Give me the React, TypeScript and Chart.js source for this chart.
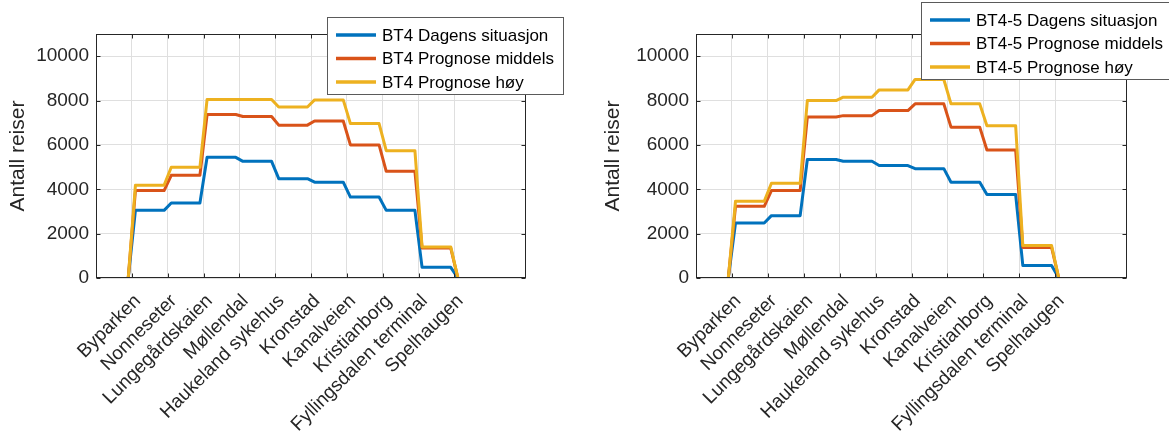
import React, { useEffect, useRef } from "react";
import { Chart, registerables } from "chart.js";

Chart.register(...registerables);

// ---------- data ----------
const stops = [
  "Byparken",
  "Nonneseter",
  "Lungegårdskaien",
  "Møllendal",
  "Haukeland sykehus",
  "Kronstad",
  "Kanalveien",
  "Kristianborg",
  "Fyllingsdalen terminal",
  "Spelhaugen",
];

const bt4Dagens = [3050, 3380, 5440, 5260, 4480, 4320, 3650, 3050, 480];
const bt4Middels = [3940, 4630, 7370, 7280, 6890, 7080, 6000, 4810, 1350];
const bt4Hoy = [4180, 4990, 8050, 8050, 7710, 8030, 6960, 5740, 1400];

const bt45Dagens = [2480, 2810, 5340, 5260, 5070, 4930, 4320, 3760, 560];
const bt45Middels = [3230, 3940, 7260, 7320, 7550, 7850, 6800, 5770, 1380];
const bt45Hoy = [3460, 4270, 8000, 8150, 8480, 8950, 7850, 6860, 1460];

const yTicks = [0, 2000, 4000, 6000, 8000, 10000];
const yTitle = "Antall reiser";

const leftLabels = ["BT4 Dagens situasjon", "BT4 Prognose middels", "BT4 Prognose høy"];
const rightLabels = ["BT4-5 Dagens situasjon", "BT4-5 Prognose middels", "BT4-5 Prognose høy"];

// ---------- style ----------
const COLORS = ["#0072BD", "#D95319", "#EDB120"];
const FONT = 'Arial, "Liberation Sans", Helvetica, sans-serif';
const TEXT = "#262626";
const GRID = "#dfdfdf";
const RAMP = 0.1;

function stepPoints(vals: number[]) {
  const pts: { x: number; y: number }[] = [{ x: 1 - RAMP, y: 0 }];
  vals.forEach((v, i) => {
    pts.push({ x: i + 1 + RAMP, y: v });
    pts.push({ x: i + 2 - RAMP, y: v });
  });
  pts.push({ x: vals.length + 1 + RAMP, y: 0 });
  return pts;
}

const boxPlugin = {
  id: "matlabBox",
  afterDatasetsDraw(chart: any) {
    const { ctx, chartArea: a, scales } = chart;
    ctx.save();
    ctx.strokeStyle = "#262626";
    ctx.lineWidth = 1;
    const L = Math.round(a.left) + 0.5;
    const R = Math.round(a.right) - 0.5;
    const T = Math.round(a.top) + 0.5;
    const B = Math.round(a.bottom) - 0.5;
    ctx.strokeRect(L, T, R - L, B - T);
    const tl = 4;
    ctx.beginPath();
    scales.x.ticks.forEach((t: any) => {
      const px = Math.round(scales.x.getPixelForValue(t.value)) + 0.5;
      ctx.moveTo(px, B);
      ctx.lineTo(px, B - tl);
      ctx.moveTo(px, T);
      ctx.lineTo(px, T + tl);
    });
    scales.y.ticks.forEach((t: any) => {
      const py = Math.round(scales.y.getPixelForValue(t.value)) + 0.5;
      ctx.moveTo(L, py);
      ctx.lineTo(L + tl, py);
      ctx.moveTo(R, py);
      ctx.lineTo(R - tl, py);
    });
    ctx.stroke();
    ctx.restore();
  },
};

const boxLegendPlugin = {
  id: "boxLegend",
  afterDraw(chart: any, _args: any, opts: any) {
    const { ctx } = chart;
    const { x, y, w, h, rowY, lineX0, lineX1, textX } = opts;
    ctx.save();
    ctx.fillStyle = "#ffffff";
    ctx.fillRect(x, y, w, h);
    ctx.strokeStyle = "#5a5a5a";
    ctx.lineWidth = 1;
    ctx.strokeRect(x + 0.5, y + 0.5, w - 1, h - 1);
    ctx.font = `17px ${FONT}`;
    ctx.textBaseline = "middle";
    ctx.textAlign = "left";
    chart.data.datasets.forEach((ds: any, i: number) => {
      const ry = y + rowY[i];
      ctx.strokeStyle = ds.borderColor;
      ctx.lineWidth = 3.5;
      ctx.beginPath();
      ctx.moveTo(x + lineX0, ry);
      ctx.lineTo(x + lineX1, ry);
      ctx.stroke();
      ctx.fillStyle = "#000000";
      ctx.fillText(ds.label, x + textX, ry + 1);
    });
    ctx.restore();
  },
};

type PanelProps = {
  labels: string[];
  series: number[][];
  width: number;
  yAxisWidth: number;
  padRight: number;
  titlePad: number;
  legend: any;
};

function Panel({ labels, series, width, yAxisWidth, padRight, titlePad, legend }: PanelProps) {
  const ref = useRef<HTMLCanvasElement | null>(null);
  useEffect(() => {
    if (!ref.current) return;
    const chart = new Chart(ref.current, {
      type: "line",
      data: {
        datasets: series.map((vals, i) => ({
          label: labels[i],
          data: stepPoints(vals),
          borderColor: COLORS[i],
          backgroundColor: COLORS[i],
          borderWidth: 3,
          pointRadius: 0,
          tension: 0,
          fill: false,
          order: series.length - i,
          borderJoinStyle: "round" as const,
        })),
      },
      options: {
        animation: false,
        responsive: false,
        maintainAspectRatio: false,
        parsing: false as any,
        layout: { padding: { top: 34, right: padRight, left: 0, bottom: 0 } },
        plugins: {
          legend: { display: false },
          tooltip: { enabled: false },
          boxLegend: legend,
        } as any,
        scales: {
          x: {
            type: "linear",
            min: 0,
            max: 12,
            afterBuildTicks: (s: any) => {
              s.ticks = stops.map((_, i) => ({ value: i + 1 }));
            },
            afterFit: (s: any) => {
              s.height = 154;
            },
            grid: { color: GRID, drawTicks: false, lineWidth: 1 },
            border: { display: false },
            ticks: {
              autoSkip: false,
              minRotation: 45,
              maxRotation: 45,
              padding: 12,
              labelOffset: 6,
              color: TEXT,
              font: { family: FONT, size: 19 },
              callback: (v: any) => stops[Math.round(v) - 1] ?? "",
            },
          },
          y: {
            type: "linear",
            min: 0,
            max: 11000,
            afterBuildTicks: (s: any) => {
              s.ticks = yTicks.map((v) => ({ value: v }));
            },
            afterFit: (s: any) => {
              s.width = yAxisWidth;
            },
            grid: { color: GRID, drawTicks: false, lineWidth: 1 },
            border: { display: false },
            ticks: {
              padding: 7,
              color: TEXT,
              font: { family: FONT, size: 19 },
              callback: (v: any) => String(v),
            },
            title: {
              display: true,
              text: yTitle,
              color: TEXT,
              font: { family: FONT, size: 21 },
              padding: { top: titlePad, bottom: 0 },
            },
          },
        },
      },
      plugins: [boxPlugin, boxLegendPlugin],
    } as any);
    return () => chart.destroy();
  }, []);
  return <canvas ref={ref} width={width} height={432} style={{ display: "block", width, height: 432 }} />;
}

export default function App() {
  return (
    <div style={{ position: "absolute", left: 0, top: 0, width: 1169, height: 432, background: "#fff", overflow: "hidden" }}>
      <div style={{ position: "absolute", left: 0, top: 0 }}>
        <Panel
          labels={leftLabels}
          series={[bt4Dagens, bt4Middels, bt4Hoy]}
          width={585}
          yAxisWidth={96}
          padRight={59}
          titlePad={6}
          legend={{ x: 327, y: 17, w: 237, h: 78, rowY: [18, 41.5, 65], lineX0: 9, lineX1: 49, textX: 55 }}
        />
      </div>
      <div style={{ position: "absolute", left: 585, top: 0 }}>
        <Panel
          labels={rightLabels}
          series={[bt45Dagens, bt45Middels, bt45Hoy]}
          width={584}
          yAxisWidth={111}
          padRight={42}
          titlePad={16}
          legend={{ x: 336, y: 2, w: 260, h: 78, rowY: [18, 41.5, 65], lineX0: 9, lineX1: 49, textX: 55 }}
        />
      </div>
    </div>
  );
}
